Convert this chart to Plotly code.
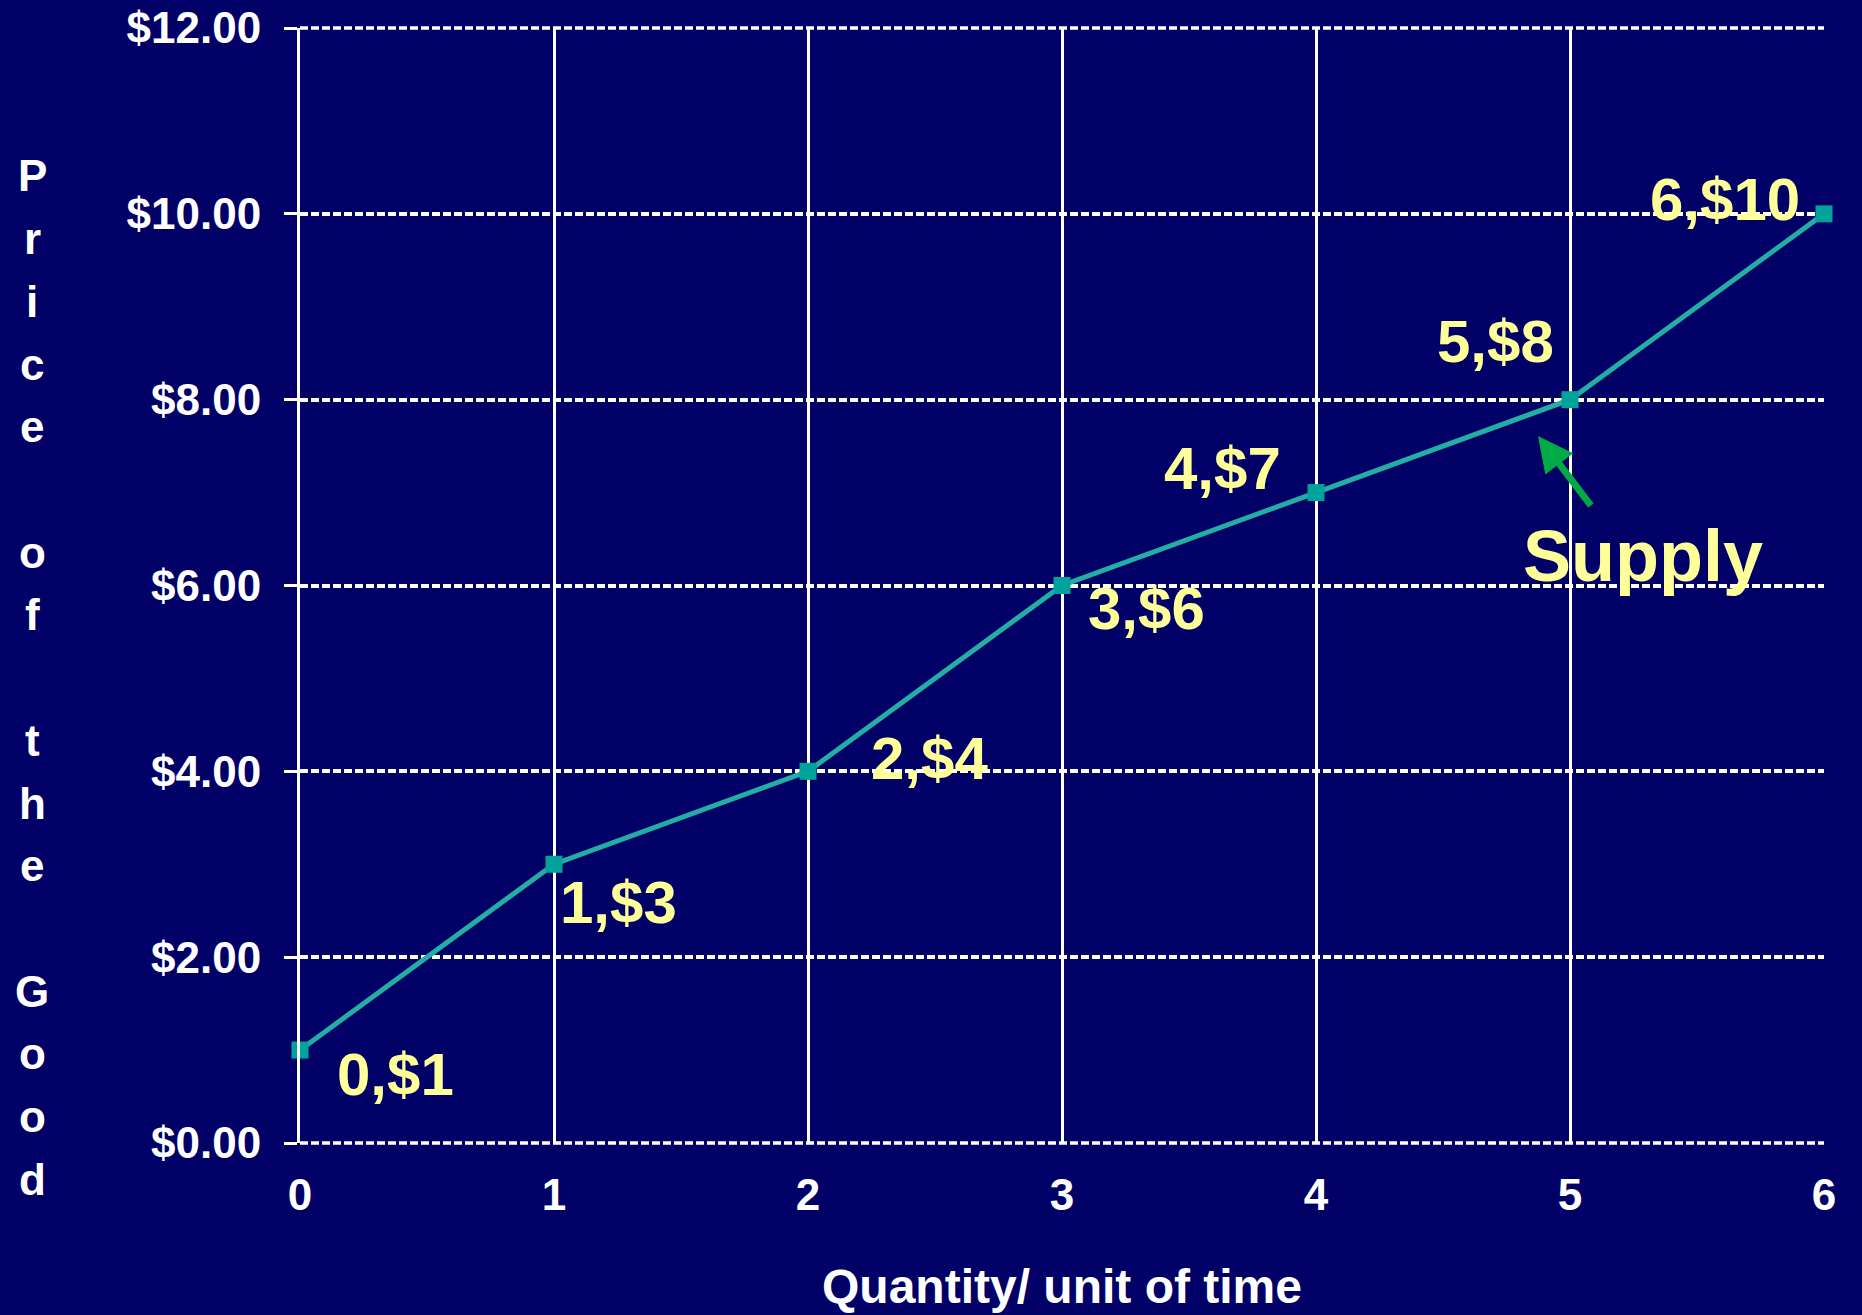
import plotly.graph_objects as go

# Supply schedule: quantity per unit of time vs. price of the good
quantity = [0, 1, 2, 3, 4, 5, 6]
price = [1, 3, 4, 6, 7, 8, 10]

y_ticks = [0, 2, 4, 6, 8, 10, 12]
x_ticks = [0, 1, 2, 3, 4, 5, 6]

y_title = "Price of the Good"
x_title = "Quantity/ unit of time"
curve_name = "Supply"

NAVY = "#000066"
TEAL = "#22ADA5"
YELLOW = "#FFFF99"
GREEN = "#00AA44"
FONT = "Liberation Sans, Arial, sans-serif"
GRID_DASH = "8px,3px"

W, H = 1862, 1315
L, R, T, B = 300, 38, 28, 172
PW, PH = W - L - R, H - T - B

fig = go.Figure()

fig.add_trace(go.Scatter(
    x=quantity, y=price,
    mode="lines+markers",
    line=dict(color=TEAL, width=5),
    marker=dict(symbol="square", size=17, color="#00A39C"),
    cliponaxis=False,
    showlegend=False,
    hoverinfo="skip",
))

# point labels "q,$p" placed around each marker (offsets in px)
label_offsets = [
    ("left", 35, -24),
    ("left", 4, -38),
    ("left", 61, 13),
    ("left", 24, -23),
    ("right", -33, 24),
    ("right", -14, 58),
    ("right", -22, 14),
]
annotations = []
for q, p, (anchor, dx, dy) in zip(quantity, price, label_offsets):
    annotations.append(dict(
        x=q, y=p, xref="x", yref="y",
        text=f"{q},${p}",
        showarrow=False,
        xanchor=anchor, yanchor="middle",
        xshift=dx, yshift=dy,
        font=dict(family=FONT, size=60, color=YELLOW, weight="bold"),
    ))


def px_to_paper(px, py):
    return (px - L) / PW, (H - B - py) / PH


# curve name with its pointer arrow
sx, sy = px_to_paper(1643, 556)
annotations.append(dict(
    x=sx, y=sy, xref="paper", yref="paper", text=curve_name, showarrow=False,
    xanchor="center", yanchor="middle",
    font=dict(family=FONT, size=72, color=YELLOW, weight="bold"),
))
hx, hy = px_to_paper(1538, 436)
annotations.append(dict(
    x=hx, y=hy, xref="paper", yref="paper", text="",
    showarrow=True, arrowhead=2, arrowsize=1.0, arrowwidth=7, arrowcolor=GREEN,
    ax=54, ay=71,
))

# vertical axis title, one letter per row
row = 0
for ch in y_title:
    if ch != " ":
        lx, ly = px_to_paper(32, 176 + 62.7 * row)
        annotations.append(dict(
            x=lx, y=ly, xref="paper", yref="paper", text=ch, showarrow=False,
            xanchor="center", yanchor="middle",
            font=dict(family=FONT, size=44, color="white", weight="bold"),
        ))
    row += 1

# horizontal axis title
tx, ty = px_to_paper(1062, 1286)
annotations.append(dict(
    x=tx, y=ty, xref="paper", yref="paper", text=x_title, showarrow=False,
    xanchor="center", yanchor="middle",
    font=dict(family=FONT, size=48, color="white", weight="bold"),
))

# dashed rules along the bottom and top edges of the plot area
edge_rules = [
    dict(type="line", xref="paper", yref="paper", x0=0, x1=1, y0=v, y1=v,
         line=dict(color="white", width=3.5, dash=GRID_DASH), layer="below")
    for v in (0, 1)
]

fig.update_layout(
    width=W, height=H,
    margin=dict(l=L, r=R, t=T, b=B, pad=0),
    paper_bgcolor=NAVY, plot_bgcolor=NAVY,
    annotations=annotations,
    shapes=edge_rules,
    xaxis=dict(
        range=[0, 6], tickvals=x_ticks, ticktext=[str(v) for v in x_ticks],
        showgrid=True, gridcolor="white", gridwidth=3,
        zeroline=False, showline=False, automargin=False,
        ticks="", ticklabelstandoff=22,
        tickfont=dict(family=FONT, size=44, color="white", weight="bold"),
    ),
    yaxis=dict(
        range=[y_ticks[0], y_ticks[-1]], tickvals=y_ticks,
        ticktext=[f"${v:.2f}" for v in y_ticks],
        showgrid=True, gridcolor="white", gridwidth=3.5, griddash=GRID_DASH,
        zeroline=False, showline=True, linecolor="white", linewidth=3,
        ticks="outside", ticklen=13, tickwidth=3, tickcolor="white",
        ticklabelstandoff=14, automargin=False,
        tickfont=dict(family=FONT, size=44, color="white", weight="bold"),
    ),
)

fig.write_html("out.html")
